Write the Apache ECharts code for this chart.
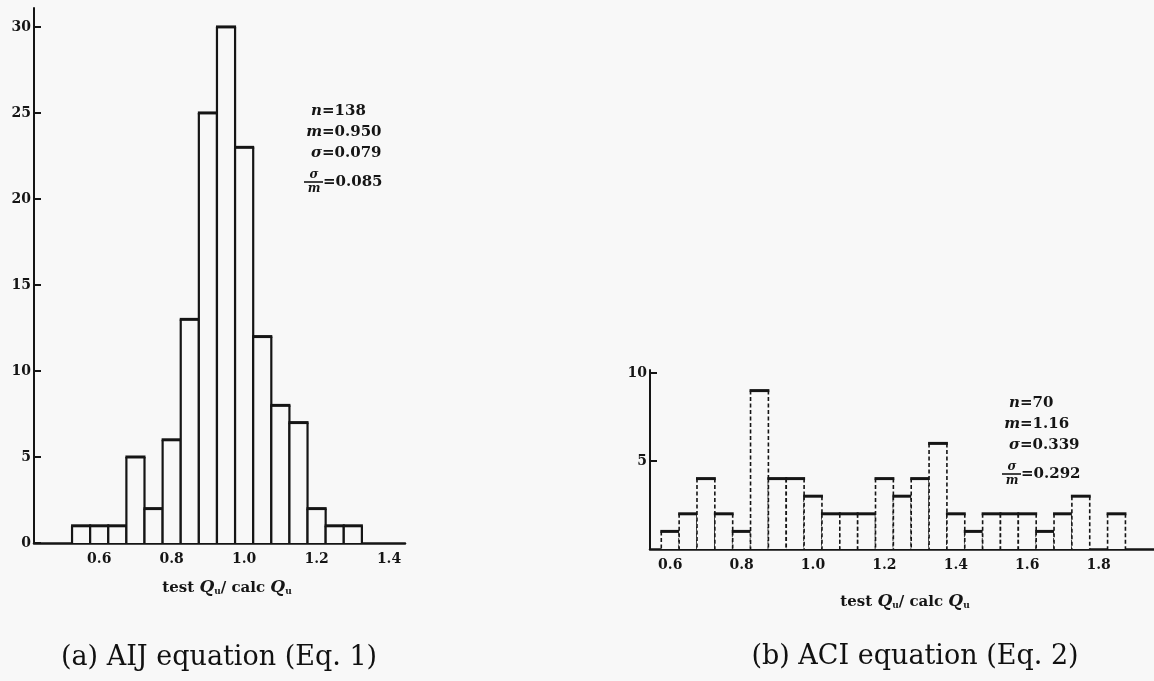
<!DOCTYPE html>
<html><head><meta charset="utf-8">
<script src="https://cdn.jsdelivr.net/npm/echarts@6/dist/echarts.min.js"></script>
<style>html,body{margin:0;padding:0;background:#f8f8f8}#c{width:1154px;height:681px}</style>
</head><body><div id="c"></div>
<script>
// ---- data ----
const aijBins   = [0.55,0.60,0.65,0.70,0.75,0.80,0.85,0.90,0.95,1.00,1.05,1.10,1.15,1.20,1.25,1.30];
const aijCounts = [1,1,1,5,2,6,13,25,30,23,12,8,7,2,1,1];
const aciBins   = [0.60,0.65,0.70,0.75,0.80,0.85,0.90,0.95,1.00,1.05,1.10,1.15,1.20,1.25,1.30,1.35,1.40,1.45,1.50,1.55,1.60,1.65,1.70,1.75,1.80,1.85];
const aciCounts = [1,2,4,2,1,9,4,4,3,2,2,2,4,3,4,6,2,1,2,2,2,1,2,3,0,2];
const binWidth = 0.05;
const aijXTicks = [0.6,0.8,1.0,1.2,1.4];
const aciXTicks = [0.6,0.8,1.0,1.2,1.4,1.6,1.8];
const aijYTicks = [0,5,10,15,20,25,30];
const aciYTicks = [5,10];
const aijStats = {n:'138', m:'0.950', s:'0.079', cv:'0.085'};
const aciStats = {n:'70', m:'1.16', s:'0.339', cv:'0.292'};
const captions = ['(a) AIJ equation (Eq. 1)', '(b) ACI equation (Eq. 2)'];

const BG = '#f8f8f8', INK = '#151515';
const SERIF = '"DejaVu Serif", "Liberation Serif", serif';

function makeRender(dashed) {
  return function (params, api) {
    const x = api.value(0), c = api.value(1);
    if (!c) return null;
    const p0 = api.coord([x - binWidth / 2, 0]);
    const p1 = api.coord([x + binWidth / 2, c]);
    const l = p0[0], r = p1[0], b = p0[1], t = p1[1];
    const side = {stroke: INK, lineWidth: dashed ? 1.6 : 2.2, lineDash: dashed ? [4, 2.5] : null};
    return {type: 'group', children: [
      {type: 'rect', shape: {x: l, y: t, width: r - l, height: b - t}, style: {fill: BG}},
      {type: 'line', shape: {x1: l, y1: t, x2: l, y2: b}, style: side},
      {type: 'line', shape: {x1: r, y1: t, x2: r, y2: b}, style: side},
      {type: 'line', shape: {x1: l - 1, y1: t, x2: r + 1, y2: t}, style: {stroke: INK, lineWidth: 3}}
    ]};
  };
}

const labelStyle = {color: INK, fontFamily: SERIF, fontWeight: 'bold', fontSize: 14};

function xAxisCfg(gi, min, max, ticks) {
  return {gridIndex: gi, type: 'value', min: min, max: max,
    axisLine: {show: true, onZero: false, lineStyle: {color: INK, width: 2.5}},
    axisTick: {show: false}, splitLine: {show: false},
    axisLabel: Object.assign({customValues: ticks, margin: 9, formatter: v => v.toFixed(1)}, labelStyle)};
}
function yAxisCfg(gi, max, interval, ticks) {
  return {gridIndex: gi, type: 'value', min: 0, max: max, interval: interval,
    axisLine: {show: true, lineStyle: {color: INK, width: 2}},
    axisTick: {show: true, inside: true, length: 7, customValues: ticks, lineStyle: {color: INK, width: 2}},
    splitLine: {show: false},
    axisLabel: Object.assign({customValues: ticks, margin: 3}, labelStyle)};
}

const titleRich = {
  a: {fontFamily: SERIF, fontWeight: 'bold', fontSize: 15, fill: INK},
  q: {fontFamily: SERIF, fontWeight: 'bold', fontStyle: 'italic', fontSize: 17, fill: INK},
  s: {fontFamily: SERIF, fontWeight: 'bold', fontSize: 9, fill: INK, verticalAlign: 'bottom', lineHeight: 13}
};
const titleText = '{a|test }{q|Q}{s|u}{a|/ calc }{q|Q}{s|u}';

const statFont = {fontFamily: SERIF, fontWeight: 'bold', fontSize: 15, fill: INK};
function stats(xEq, y, st) {
  const els = [];
  const rows = [['n', st.n], ['m', st.m], ['σ', st.s]];
  rows.forEach((r, k) => {
    els.push({type: 'text', x: xEq, y: y + k * 21, style: Object.assign({text: r[0], align: 'right', verticalAlign: 'middle', fontStyle: 'italic'}, statFont)});
    els.push({type: 'text', x: xEq, y: y + k * 21, style: Object.assign({text: '=' + r[1], align: 'left', verticalAlign: 'middle'}, statFont)});
  });
  const fy = y + 3 * 21 + 8;
  els.push({type: 'text', x: xEq - 8, y: fy - 7, style: Object.assign({text: 'σ', align: 'center', verticalAlign: 'middle', fontStyle: 'italic'}, statFont, {fontSize: 12})});
  els.push({type: 'line', shape: {x1: xEq - 18, y1: fy, x2: xEq + 1, y2: fy}, style: {stroke: INK, lineWidth: 1.6}});
  els.push({type: 'text', x: xEq - 8, y: fy + 7, style: Object.assign({text: 'm', align: 'center', verticalAlign: 'middle', fontStyle: 'italic'}, statFont, {fontSize: 12})});
  els.push({type: 'text', x: xEq + 1, y: fy, style: Object.assign({text: '=' + st.cv, align: 'left', verticalAlign: 'middle'}, statFont)});
  return els;
}

const chart = echarts.init(document.getElementById('c'), null, {renderer: 'canvas'});
chart.setOption({
  backgroundColor: BG,
  animation: false,
  grid: [
    {left: 34, top: 8, width: 371, height: 535},
    {left: 650, top: 370, width: 504, height: 179}
  ],
  xAxis: [xAxisCfg(0, 0.42, 1.444, aijXTicks), xAxisCfg(1, 0.5434, 1.955, aciXTicks)],
  yAxis: [yAxisCfg(0, 31.1, 5, aijYTicks), yAxisCfg(1, 10.17, 5, aciYTicks)],
  series: [
    {type: 'custom', xAxisIndex: 0, yAxisIndex: 0, clip: false,
     data: aijBins.map((b, i) => [b, aijCounts[i]]), encode: {x: 0, y: 1}, renderItem: makeRender(false)},
    {type: 'custom', xAxisIndex: 1, yAxisIndex: 1, clip: false,
     data: aciBins.map((b, i) => [b, aciCounts[i]]), encode: {x: 0, y: 1}, renderItem: makeRender(true)}
  ],
  graphic: [
    {type: 'text', x: 227, y: 588, style: {text: titleText, rich: titleRich, align: 'center', verticalAlign: 'middle'}},
    {type: 'text', x: 905, y: 602, style: {text: titleText, rich: titleRich, align: 'center', verticalAlign: 'middle'}},
    {type: 'text', x: 219, y: 658, style: {text: captions[0], fontFamily: SERIF, fontSize: 27, fill: '#111', align: 'center', verticalAlign: 'middle'}},
    {type: 'text', x: 915, y: 657, style: {text: captions[1], fontFamily: SERIF, fontSize: 27, fill: '#111', align: 'center', verticalAlign: 'middle'}}
  ].concat(stats(322, 111, aijStats), stats(1020, 403, aciStats))
});
</script></body></html>
